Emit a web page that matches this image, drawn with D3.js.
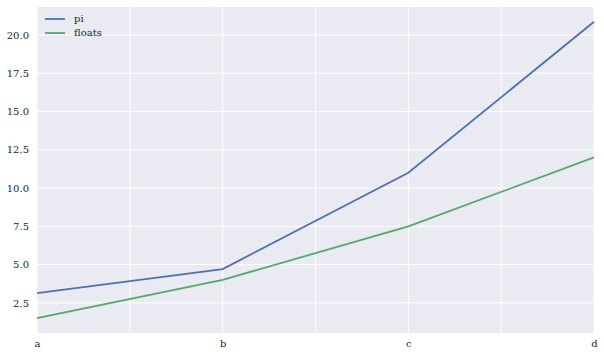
<!DOCTYPE html>
<html>
<head>
<meta charset="utf-8">
<script src="https://cdn.jsdelivr.net/npm/d3@7"></script>
<style>
  body { margin: 0; background: #fff; }
  svg text { font-family: "DejaVu Serif", serif; }
</style>
</head>
<body>
<svg id="chart" width="604" height="356"></svg>
<script>
const categories = ['a', 'b', 'c', 'd'];
const piValues = [3.14, 4.71, 11.0, 20.86];
const floatValues = [1.5, 4.0, 7.5, 12.0];
const yTicks = [2.5, 5.0, 7.5, 10.0, 12.5, 15.0, 17.5, 20.0];
const xGridSteps = [0, 0.5, 1, 1.5, 2, 2.5, 3];

const series = [
  {name: 'pi', values: piValues, color: '#4C72B0'},
  {name: 'floats', values: floatValues, color: '#55A868'}
];

const margin = {top: 7, right: 10, bottom: 23, left: 37};
const width = 604, height = 356;
const svg = d3.select('#chart');

const x = d3.scaleLinear()
  .domain([0, categories.length - 1])
  .range([margin.left, width - margin.right]);

// matplotlib-style 5% margin on y
const allVals = piValues.concat(floatValues);
const ymin = d3.min(allVals), ymax = d3.max(allVals);
const pad = (ymax - ymin) * 0.05;
const y = d3.scaleLinear()
  .domain([ymin - pad, ymax + pad])
  .range([height - margin.bottom, margin.top]);

svg.append('rect')
  .attr('x', margin.left)
  .attr('y', margin.top)
  .attr('width', width - margin.left - margin.right)
  .attr('height', height - margin.top - margin.bottom)
  .attr('fill', '#EAEAF2');

// grid
const grid = svg.append('g');
grid.selectAll('.hgrid')
  .data(yTicks)
  .enter().append('line')
  .attr('x1', margin.left).attr('x2', width - margin.right)
  .attr('y1', d => y(d)).attr('y2', d => y(d))
  .attr('stroke', '#fff').attr('stroke-width', 1);
grid.selectAll('.vgrid')
  .data(xGridSteps)
  .enter().append('line')
  .attr('x1', d => x(d)).attr('x2', d => x(d))
  .attr('y1', margin.top).attr('y2', height - margin.bottom)
  .attr('stroke', '#fff').attr('stroke-width', 1);

// axes
const yAxis = svg.append('g')
  .attr('transform', `translate(${margin.left},0)`)
  .call(d3.axisLeft(y).tickValues(yTicks).tickFormat(d3.format('.1f')).tickSize(0).tickPadding(8));
const xAxis = svg.append('g')
  .attr('transform', `translate(0,${height - margin.bottom})`)
  .call(d3.axisBottom(x).tickValues(d3.range(categories.length)).tickFormat(i => categories[i]).tickSize(0).tickPadding(7));
[yAxis, xAxis].forEach(g => {
  g.select('.domain').remove();
  g.selectAll('text').attr('fill', '#262626').style('font-size', '10px');
});

// lines
const line = d3.line()
  .x((d, i) => x(i))
  .y(d => y(d));
svg.selectAll('.series')
  .data(series)
  .enter().append('path')
  .attr('d', d => line(d.values))
  .attr('fill', 'none')
  .attr('stroke', d => d.color)
  .attr('stroke-width', 1.8);

// legend
const legend = svg.append('g').attr('transform', 'translate(45,19)');
series.forEach((s, i) => {
  const row = legend.append('g').attr('transform', `translate(0,${i * 14})`);
  row.append('line')
    .attr('x1', 0).attr('x2', 20)
    .attr('stroke', s.color).attr('stroke-width', 1.8);
  row.append('text')
    .attr('x', 29).attr('dy', '0.32em')
    .attr('fill', '#262626')
    .style('font-size', '10px')
    .text(s.name);
});
</script>
</body>
</html>
